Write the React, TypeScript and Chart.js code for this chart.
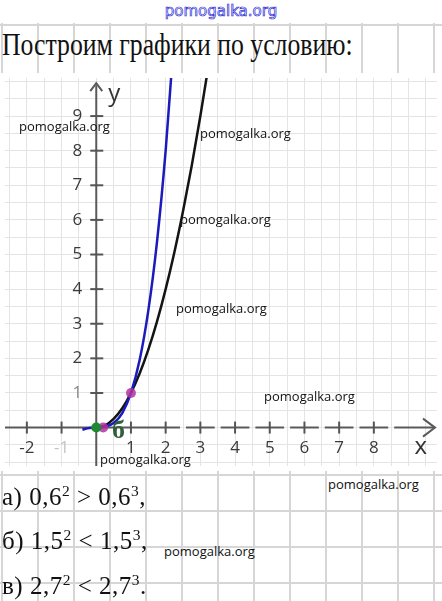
import { useEffect, useRef } from "react";
import { Chart, registerables } from "chart.js";

Chart.register(...registerables);

// y = x² (black curve), sampled points
const parabolaX = [0, 0.25, 0.5, 0.75, 1, 1.25, 1.5, 1.75, 2, 2.25, 2.5, 2.75, 3, 3.25];
const parabolaY = [0, 0.06, 0.25, 0.56, 1, 1.56, 2.25, 3.06, 4, 5.06, 6.25, 7.56, 9, 10.56];

// y = x³ (blue curve), sampled points
const cubicX = [-0.4, -0.2, 0, 0.25, 0.5, 0.75, 1, 1.25, 1.5, 1.75, 2, 2.25];
const cubicY = [-0.06, -0.01, 0, 0.02, 0.13, 0.42, 1, 1.95, 3.38, 5.36, 8, 11.39];

// highlighted points
const greenPointX = [0];
const greenPointY = [0];
const pinkPointX = [1, 0.2];
const pinkPointY = [1, 0];

// axis tick labels
const xTickValues = [-2, -1, 1, 2, 3, 4, 5, 6, 7, 8];
const xTickLabels = ["-2", "-1", "1", "2", "3", "4", "5", "6", "7", "8"];
const yTickValues = [1, 2, 3, 4, 5, 6, 7, 8, 9];
const yTickLabels = ["1", "2", "3", "4", "5", "6", "7", "8", "9"];

const watermark = "pomogalka.org";
const watermarkSpots: [number, number][] = [
  [19, 120],
  [200, 127],
  [180, 213],
  [176, 302],
  [264, 390],
  [100, 453],
  [328, 478],
  [164, 545],
];

const zip = (xs: number[], ys: number[]) => xs.map((x, i) => ({ x, y: ys[i] }));

const axesPlugin = {
  id: "handAxes",
  beforeDraw(chart: any) {
    const { ctx, chartArea } = chart;
    ctx.save();
    ctx.fillStyle = "#ffffff";
    ctx.fillRect(chartArea.left, chartArea.top, chartArea.right - chartArea.left, chartArea.bottom - chartArea.top);
    ctx.restore();
  },
  beforeDatasetsDraw(chart: any) {
    const { ctx, chartArea } = chart;
    const xs = chart.scales.x;
    const ys = chart.scales.y;
    const x0 = xs.getPixelForValue(0);
    const y0 = ys.getPixelForValue(0);
    ctx.save();
    ctx.strokeStyle = "#5a5a5a";
    ctx.lineWidth = 2;
    ctx.lineCap = "butt";

    // x axis, with small breaks at the half units on the right side
    const xEnd = chartArea.right - 2;
    ctx.beginPath();
    let start = chartArea.left;
    for (let v = 2.5; v < 9; v += 1) {
      const p = xs.getPixelForValue(v);
      ctx.moveTo(start, y0);
      ctx.lineTo(p - 3, y0);
      start = p + 3;
    }
    ctx.moveTo(start, y0);
    ctx.lineTo(xEnd, y0);
    ctx.stroke();
    // x arrow head
    ctx.beginPath();
    ctx.moveTo(xEnd - 12, y0 - 9);
    ctx.lineTo(xEnd, y0);
    ctx.lineTo(xEnd - 12, y0 + 9);
    ctx.stroke();

    // y axis
    const yTop = ys.getPixelForValue(9.95);
    ctx.beginPath();
    ctx.moveTo(x0, chartArea.bottom);
    ctx.lineTo(x0, yTop + 2);
    ctx.stroke();
    ctx.beginPath();
    ctx.moveTo(x0 - 6, yTop + 8);
    ctx.lineTo(x0, yTop);
    ctx.lineTo(x0 + 6, yTop + 8);
    ctx.stroke();

    // ticks and labels
    ctx.font = "17px 'Open Sans'";
    ctx.textAlign = "center";
    ctx.textBaseline = "middle";
    xTickValues.forEach((v, i) => {
      const p = xs.getPixelForValue(v);
      ctx.strokeStyle = "#555";
      ctx.beginPath();
      ctx.moveTo(p, y0 - 6);
      ctx.lineTo(p, y0 + 6);
      ctx.stroke();
      ctx.fillStyle = v === -1 ? "#c4c4c4" : "#3a3a3a";
      ctx.fillText(xTickLabels[i], p, y0 + 21);
    });
    yTickValues.forEach((v, i) => {
      const p = ys.getPixelForValue(v);
      ctx.strokeStyle = "#555";
      ctx.beginPath();
      ctx.moveTo(x0 - 6, p);
      ctx.lineTo(x0 + 7, p);
      ctx.stroke();
      ctx.fillStyle = v === 1 ? "#8a8a8a" : "#3a3a3a";
      ctx.fillText(yTickLabels[i], x0 - 19, p);
    });

    // axis names
    ctx.font = "24px 'Open Sans'";
    ctx.fillStyle = "#333";
    ctx.fillText("y", x0 + 18, yTop + 11);
    ctx.fillText("x", xs.getPixelForValue(9.35), y0 + 20);
    ctx.restore();
  },
  afterDatasetsDraw(chart: any) {
    const { ctx } = chart;
    const xs = chart.scales.x;
    const ys = chart.scales.y;
    ctx.save();
    ctx.font = "bold 26px 'Liberation Serif'";
    ctx.fillStyle = "#2f5f3c";
    ctx.textAlign = "center";
    ctx.textBaseline = "middle";
    ctx.fillText("б", xs.getPixelForValue(0.64), ys.getPixelForValue(-0.1));
    ctx.restore();
  },
};

function GraphCanvas() {
  const ref = useRef<HTMLCanvasElement | null>(null);
  useEffect(() => {
    if (!ref.current) return;
    const chart = new Chart(ref.current, {
      type: "scatter",
      data: {
        datasets: [
          {
            data: zip(greenPointX, greenPointY),
            pointRadius: 5,
            pointBackgroundColor: "#1e8a30",
            pointBorderWidth: 0,
            showLine: false,
            order: 0,
          },
          {
            data: zip(pinkPointX, pinkPointY),
            pointRadius: 5,
            pointBackgroundColor: "rgba(176,52,158,0.85)",
            pointBorderWidth: 0,
            showLine: false,
            order: 1,
          },
          {
            data: zip(cubicX, cubicY),
            showLine: true,
            borderColor: "#1b1bbd",
            borderWidth: 2.5,
            pointRadius: 0,
            cubicInterpolationMode: "monotone",
            order: 2,
          },
          {
            data: zip(parabolaX, parabolaY),
            showLine: true,
            borderColor: "#141414",
            borderWidth: 2.5,
            pointRadius: 0,
            cubicInterpolationMode: "monotone",
            order: 3,
          },
        ],
      },
      options: {
        animation: false,
        responsive: true,
        maintainAspectRatio: false,
        layout: { padding: 0 },
        plugins: { legend: { display: false }, tooltip: { enabled: false } },
        scales: {
          x: {
            type: "linear",
            min: -2.63,
            max: 9.82,
            ticks: { display: false, stepSize: 0.5, includeBounds: false },
            grid: { color: "#e4e4e4", lineWidth: 1, drawTicks: false },
            border: { display: false },
          },
          y: {
            type: "linear",
            min: -1.11,
            max: 10.1,
            ticks: { display: false, stepSize: 0.5, includeBounds: false },
            grid: { color: "#e4e4e4", lineWidth: 1, drawTicks: false },
            border: { display: false },
          },
        },
      },
      plugins: [axesPlugin],
    });
    return () => chart.destroy();
  }, []);
  return <canvas ref={ref} />;
}

const sup: React.CSSProperties = { fontSize: "0.62em", verticalAlign: "0.55em", lineHeight: 0 };

function Inequality({ top, label, a, op, b, end }: { top: number; label: string; a: string; op: string; b: string; end: string }) {
  return (
    <div
      style={{
        position: "absolute",
        left: 2,
        top,
        fontFamily: "'Liberation Serif', serif",
        fontSize: 25,
        lineHeight: "25px",
        color: "#111",
        whiteSpace: "pre",
        letterSpacing: "0.5px",
      }}
    >
      {label} {a}
      <span style={sup}>2</span> {op} {b}
      <span style={sup}>3</span>
      {end}
    </div>
  );
}

export default function App() {
  const coarseGrid = "linear-gradient(to right, #d6d6d6 0 2px, transparent 2px)";
  return (
    <div
      style={{
        position: "absolute",
        left: 0,
        top: 0,
        width: 442,
        height: 601,
        overflow: "hidden",
        background: "#ffffff",
      }}
    >
      {/* ruled paper behind the title */}
      <div
        style={{
          position: "absolute",
          left: 0,
          top: 23,
          width: 442,
          height: 50,
          backgroundImage: `linear-gradient(to bottom, #d6d6d6 0 2px, transparent 2px), ${coarseGrid}`,
          backgroundSize: "442px 50px, 36px 50px",
          backgroundPosition: "0 1px, 1px 0",
          backgroundRepeat: "no-repeat, repeat-x",
        }}
      />
      {/* ruled paper behind the answers */}
      <div
        style={{
          position: "absolute",
          left: 0,
          top: 471,
          width: 442,
          height: 130,
          backgroundImage: `linear-gradient(to bottom, #d6d6d6 0 2px, transparent 2px), ${coarseGrid}`,
          backgroundSize: "36px 36px, 36px 36px",
          backgroundPosition: "0 3px, 1px 0",
        }}
      />
      <div style={{ position: "absolute", left: 0, top: 73, width: 442, height: 398 }}>
        <GraphCanvas />
      </div>

      <div
        style={{
          position: "absolute",
          left: 0,
          width: 442,
          top: 4,
          textAlign: "center",
          fontFamily: "'DejaVu Sans', sans-serif",
          fontSize: 15,
          lineHeight: "15px",
          color: "#ffffff",
          WebkitTextStroke: "0.7px #2b2bd6",
        }}
      >
        {watermark}
      </div>

      <div
        style={{
          position: "absolute",
          left: 2,
          top: 29,
          fontFamily: "'Liberation Serif', serif",
          fontSize: 31,
          lineHeight: "31px",
          color: "#111",
          whiteSpace: "nowrap",
          transform: "scaleX(0.83)",
          transformOrigin: "0 0",
        }}
      >
        Построим графики по условию:
      </div>

      {watermarkSpots.map(([l, t], i) => (
        <div
          key={i}
          style={{
            position: "absolute",
            left: l,
            top: t,
            fontFamily: "'Open Sans', sans-serif",
            fontSize: 13,
            lineHeight: "13px",
            color: "#111",
            whiteSpace: "nowrap",
          }}
        >
          {watermark}
        </div>
      ))}

      <Inequality top={484} label="а)" a="0,6" op=">" b="0,6" end="," />
      <Inequality top={528} label="б)" a="1,5" op="<" b="1,5" end="," />
      <Inequality top={573} label="в)" a="2,7" op="<" b="2,7" end="." />
    </div>
  );
}
